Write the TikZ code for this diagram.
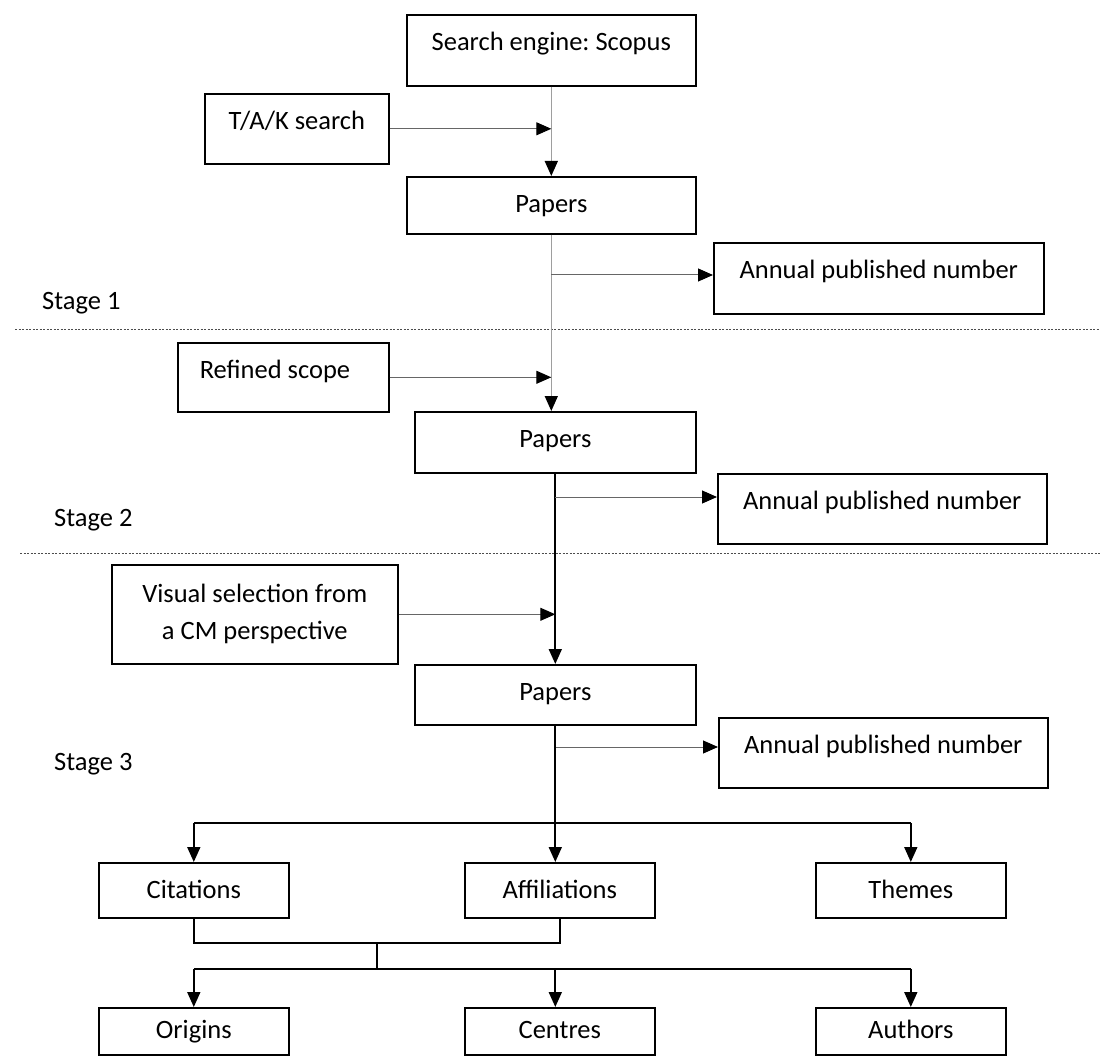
\documentclass[tikz,border=0pt]{standalone}
\usepackage{fontspec}
\setmainfont{Carlito}
\usetikzlibrary{arrows.meta}
\frenchspacing
\begin{document}
\begin{tikzpicture}[x=1pt,y=-1pt,
    font=\fontsize{26.5}{37}\selectfont,
    box/.style={draw,line width=1.6pt,text height=20pt,text depth=#1,inner ysep=15.5pt,inner xsep=0pt,anchor=north west},
    box/.default=6pt,
    lowbox/.style={draw,line width=1.6pt,text height=20pt,text depth=6pt,inner sep=0pt,minimum height=47pt,minimum width=190pt,anchor=north west},
    tip/.style={-{Triangle[length=15pt,width=13pt,color=black]}},
    greyline/.style={draw=black!38,line width=1.4pt},
    sideline/.style={draw=black!60,line width=1pt},
    mainline/.style={draw=black,line width=1.8pt},
    stagesep/.style={draw=black!70,line width=1pt,dash pattern=on 2pt off 1.5pt}]
    \useasboundingbox (0,0) rectangle (1100,1056);

    % stage separators
    \draw[stagesep] (15,330) -- (1100,330);
    \draw[stagesep] (20,553) -- (1100,553);
    \node[anchor=west,inner sep=0pt] (stage1) at (42,303) {Stage 1};
    \node[anchor=west,inner sep=0pt] (stage2) at (54,520) {Stage 2};
    \node[anchor=west,inner sep=0pt] (stage3) at (54,764) {Stage 3};

    \node[box=20pt,minimum width=289pt] (search) at (406,14) {Search engine: Scopus};
    \node[box=19pt,minimum width=184pt] (tak) at (204,93) {T/A/K search};
    \node[box=6pt,minimum width=289pt] (papers1) at (406,176) {Papers};
    \node[box=20pt,minimum width=330pt] (annual1) at (713,242) {Annual published number};
    \node[box=18pt,text width=167pt,inner xsep=22pt,align=flush left] (refined) at (177,342) {Refined scope};
    \node[box=10pt,minimum width=281pt] (papers2) at (414,411) {Papers};
    \node[box=19pt,minimum width=329pt] (annual2) at (717,473) {Annual published number};
    \node[draw,line width=1.6pt,align=center,minimum width=286pt,minimum height=99pt,inner sep=0pt,anchor=north west] (visual) at (111,564) {Visual selection from\\a CM perspective};
    \node[box=9pt,minimum width=281pt] (papers3) at (414,664) {Papers};
    \node[box=19pt,minimum width=329pt] (annual3) at (718,717) {Annual published number};

    \node[box=4pt,minimum width=190pt] (citations) at (98,862) {Citations};
    \node[box=4pt,minimum width=190pt] (affil) at (464,862) {Affiliations};
    \node[box=4pt,minimum width=190pt] (themes) at (815,862) {Themes};
    \node[lowbox] (origins) at (98,1007) {Origins};
    \node[lowbox] (centres) at (464,1007) {Centres};
    \node[lowbox] (authors) at (815,1007) {Authors};

    % stage 1
    \draw[greyline,tip] (search.south) -- (papers1.north);
    \draw[sideline,tip] (tak.east) -- (search.south |- tak.east);
    \draw[greyline,tip] (papers1.south) -- (papers1.south |- papers2.north);
    \draw[sideline,tip] (papers1.south |- 0,275) -- (annual1.west |- 0,275);
    \draw[sideline,tip] (refined.east) -- (papers1.south |- refined.east);

    % stage 2
    \draw[mainline,tip] (papers2.south) -- (papers3.north);
    \draw[sideline,tip] (papers2.south |- 0,497) -- (annual2.west |- 0,497);
    \draw[sideline,tip] (visual.east) -- (papers2.south |- visual.east);

    % stage 3
    \draw[sideline,tip] (papers3.south |- 0,747) -- (annual3.west |- 0,747);
    \draw[mainline,tip] (papers3.south) -- (papers3.south |- affil.north);
    \coordinate (split) at (papers3.south |- 0,823);
    \draw[mainline] (citations.north |- split) -- (themes.north |- split);
    \draw[mainline,tip] (citations.north |- split) -- (citations.north);
    \draw[mainline,tip] (themes.north |- split) -- (themes.north);

    \draw[mainline] (citations.south) -- ++(0,24) coordinate (m1) -- (m1 -| affil.south) -- (affil.south);
    \path (m1) -- (m1 -| affil.south) coordinate[pos=0.5] (m2);
    \draw[mainline] (m2) -- ++(0,26) coordinate (m3);
    \draw[mainline] (origins.north |- m3) -- (authors.north |- m3);
    \draw[mainline,tip] (origins.north |- m3) -- (origins.north);
    \draw[mainline,tip] (papers3.south |- m3) -- (papers3.south |- centres.north);
    \draw[mainline,tip] (authors.north |- m3) -- (authors.north);
\end{tikzpicture}
\end{document}
